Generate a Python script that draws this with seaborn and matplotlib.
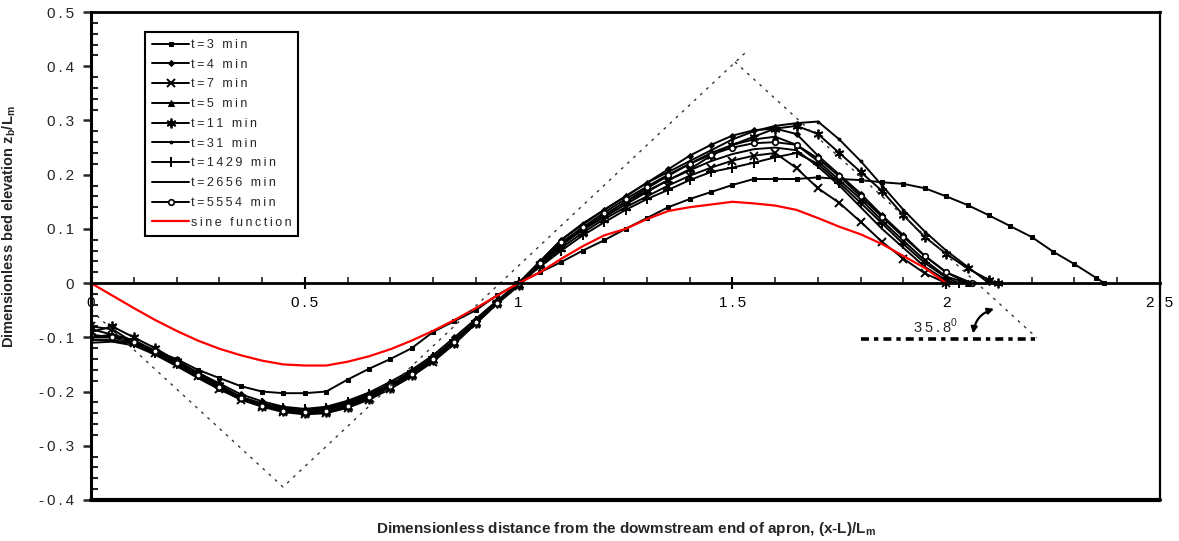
import matplotlib
matplotlib.use("Agg")
import matplotlib.pyplot as plt
import seaborn as sns
from matplotlib.patches import FancyArrowPatch
from matplotlib.ticker import MultipleLocator

sns.set_style("ticks")
plt.rcParams['font.family'] = ['Liberation Sans', 'DejaVu Sans']
plt.rcParams['axes.unicode_minus'] = False

# ---------------- data ----------------
x_grid = [0.0, 0.05, 0.1, 0.15, 0.2, 0.25, 0.3, 0.35, 0.4, 0.45,
          0.5, 0.55, 0.6, 0.65, 0.7, 0.75, 0.8, 0.85, 0.9, 0.95,
          1.0, 1.05, 1.1, 1.15, 1.2, 1.25, 1.3, 1.35, 1.4, 1.45,
          1.5, 1.55, 1.6, 1.65, 1.7, 1.75, 1.8, 1.85, 1.9, 1.95,
          2.0, 2.05, 2.1, 2.15, 2.2, 2.25, 2.3, 2.35]

labels = ["t=3 min", "t=4 min", "t=7 min", "t=5 min", "t=11 min",
          "t=31 min", "t=1429 min", "t=2656 min", "t=5554 min"]
sine_label = "sine function"

x_tick_labels = ["0", "0.5", "1", "1.5", "2", "2.5"]
x_tick_values = [0, 0.5, 1, 1.5, 2, 2.5]
y_tick_labels = ["-0.4", "-0.3", "-0.2", "-0.1", "0", "0.1", "0.2", "0.3", "0.4", "0.5"]
y_tick_values = [-0.4, -0.3, -0.2, -0.1, 0, 0.1, 0.2, 0.3, 0.4, 0.5]

y_t3 = [-0.1, -0.1, -0.11, -0.125, -0.14, -0.16, -0.175, -0.19, -0.2, -0.203,
        -0.203, -0.2, -0.178, -0.158, -0.14, -0.12, -0.09, -0.07, -0.05, -0.022,
        0.0, 0.02, 0.039, 0.06, 0.079, 0.1, 0.12, 0.14, 0.155, 0.168,
        0.181, 0.192, 0.192, 0.192, 0.195, 0.192, 0.19, 0.186, 0.183, 0.175,
        0.16, 0.144, 0.125, 0.105, 0.085, 0.058, 0.035, 0.01]
end_t3 = 2.37

y_t4 = [-0.085, -0.095, -0.105, -0.125, -0.145, -0.165, -0.185, -0.205, -0.218, -0.228,
        -0.232, -0.228, -0.217, -0.202, -0.182, -0.16, -0.133, -0.1, -0.066, -0.032,
        0.0, 0.04, 0.08, 0.108, 0.135, 0.16, 0.185, 0.21, 0.235, 0.255,
        0.272, 0.282, 0.285, 0.275, 0.235, 0.2, 0.165, 0.125, 0.088, 0.05,
        0.02, 0.0]
end_t4 = None

y_t7 = [-0.08, -0.085, -0.11, -0.128, -0.15, -0.172, -0.195, -0.215, -0.228, -0.238,
        -0.242, -0.24, -0.23, -0.215, -0.195, -0.172, -0.145, -0.112, -0.075, -0.038,
        -0.005, 0.032, 0.065, 0.093, 0.118, 0.14, 0.16, 0.18, 0.198, 0.213,
        0.226, 0.235, 0.24, 0.212, 0.175, 0.148, 0.113, 0.076, 0.045, 0.018,
        0.0]
end_t7 = None

y_t5 = [-0.1, -0.1, -0.108, -0.125, -0.147, -0.168, -0.19, -0.21, -0.223, -0.232,
        -0.236, -0.232, -0.222, -0.207, -0.188, -0.165, -0.138, -0.105, -0.07, -0.035,
        0.0, 0.035, 0.072, 0.1, 0.125, 0.15, 0.175, 0.198, 0.22, 0.24,
        0.255, 0.265, 0.27, 0.255, 0.225, 0.19, 0.155, 0.115, 0.078, 0.042,
        0.012, 0.0]
end_t5 = None

y_t11 = [-0.09, -0.08, -0.1, -0.12, -0.143, -0.165, -0.188, -0.21, -0.226, -0.236,
         -0.24, -0.238, -0.228, -0.213, -0.193, -0.17, -0.142, -0.11, -0.073, -0.037,
         -0.003, 0.035, 0.07, 0.1, 0.125, 0.15, 0.17, 0.19, 0.21, 0.235,
         0.255, 0.27, 0.285, 0.29, 0.275, 0.24, 0.205, 0.17, 0.125, 0.085,
         0.054, 0.027, 0.006]
end_t11 = 2.12

y_t31 = [-0.105, -0.105, -0.112, -0.13, -0.152, -0.173, -0.194, -0.212, -0.225, -0.233,
         -0.236, -0.233, -0.225, -0.21, -0.19, -0.167, -0.14, -0.108, -0.072, -0.036,
         0.0, 0.04, 0.08, 0.11, 0.135, 0.16, 0.185, 0.205, 0.225, 0.245,
         0.265, 0.28, 0.29, 0.295, 0.298, 0.265, 0.225, 0.18, 0.135, 0.095,
         0.06, 0.03, 0.0]
end_t31 = None

y_t1429 = [-0.1, -0.095, -0.11, -0.128, -0.15, -0.17, -0.192, -0.21, -0.222, -0.23,
           -0.233, -0.23, -0.22, -0.205, -0.186, -0.163, -0.137, -0.105, -0.07, -0.035,
           0.002, 0.03, 0.06, 0.088, 0.112, 0.135, 0.155, 0.172, 0.19, 0.205,
           0.213, 0.222, 0.232, 0.24, 0.22, 0.185, 0.148, 0.11, 0.072, 0.037,
           0.01]
end_t1429 = 2.03

y_t2656 = [-0.11, -0.108, -0.115, -0.132, -0.153, -0.175, -0.196, -0.214, -0.226, -0.234,
           -0.237, -0.234, -0.224, -0.208, -0.188, -0.165, -0.138, -0.106, -0.071, -0.036,
           0.0, 0.035, 0.07, 0.098, 0.122, 0.145, 0.168, 0.19, 0.208, 0.225,
           0.238, 0.247, 0.25, 0.245, 0.215, 0.18, 0.14, 0.1, 0.065, 0.03,
           0.005]
end_t2656 = 2.02

y_t5554 = [-0.095, -0.1, -0.108, -0.126, -0.148, -0.17, -0.192, -0.212, -0.226, -0.235,
           -0.238, -0.235, -0.226, -0.21, -0.19, -0.167, -0.14, -0.108, -0.072, -0.036,
           0.0, 0.037, 0.075, 0.103, 0.13, 0.155, 0.178, 0.2, 0.22, 0.237,
           0.25, 0.258, 0.26, 0.255, 0.23, 0.197, 0.16, 0.122, 0.085, 0.05,
           0.02]
end_t5554 = 2.06

y_sine = [0.0, -0.023, -0.046, -0.068, -0.088, -0.106, -0.121, -0.133, -0.143, -0.15,
          -0.152, -0.152, -0.145, -0.135, -0.122, -0.106, -0.088, -0.068, -0.046, -0.023,
          0.0, 0.02, 0.045, 0.068, 0.088, 0.1, 0.118, 0.133, 0.14, 0.145,
          0.15, 0.147, 0.143, 0.135, 0.12, 0.104, 0.09, 0.072, 0.05, 0.028,
          0.0]

# reference geometry lines
tri_x = [0.0, 0.449, 1.537]
tri_y = [-0.05, -0.376, 0.43]
slope_x = [1.506, 2.212]
slope_y = [0.408, -0.101]
horiz_x = [1.80, 2.21]
horiz_y = [-0.103, -0.103]
angle_text = "35.8"

series_y = [y_t3, y_t4, y_t7, y_t5, y_t11, y_t31, y_t1429, y_t2656, y_t5554]
series_end = [end_t3, end_t4, end_t7, end_t5, end_t11, end_t31, end_t1429, end_t2656, end_t5554]


def spaced(s):
    # emulate the wide letter tracking of the original rendering
    return "\u2009".join(s)


# ---------------- styles ----------------
styles = [
    dict(marker='s', markersize=3),
    dict(marker='D', markersize=3),
    dict(marker='x', markersize=6, markeredgewidth=1.4),
    dict(marker='^', markersize=4),
    dict(marker=(6, 2, 0), markersize=7, markeredgewidth=1.3),
    dict(marker='o', markersize=2),
    dict(marker='+', markersize=7, markeredgewidth=1.4),
    dict(marker=None),
    dict(marker='o', markersize=4, markerfacecolor='white', markeredgewidth=1.2),
]

fig = plt.figure(figsize=(11.79, 5.41), dpi=100)
ax = fig.add_axes([0.0772, 0.0758, 0.9067, 0.902])

for lab, yv, end, st in zip(labels, series_y, series_end, styles):
    xs = x_grid[:len(yv)]
    ys = list(yv)
    if end is not None:
        xs = xs + [end]
        ys = ys + [0.0]
    sns.lineplot(x=xs, y=ys, ax=ax, color='black', linewidth=1.4,
                 label=spaced(lab), markeredgecolor='black', estimator=None, **st)

sns.lineplot(x=x_grid[:len(y_sine)], y=y_sine, ax=ax, color='red',
             linewidth=1.6, label=spaced(sine_label), estimator=None)

# dotted guide lines
ax.plot(tri_x, tri_y, color='#333333', linewidth=1.0, linestyle=(0, (2, 4)))
ax.plot(slope_x, slope_y, color='#333333', linewidth=1.0, linestyle=(0, (2, 4)))
ax.plot(horiz_x, horiz_y, color='black', linewidth=2.6,
        linestyle=(0, (2.2, 1.4, 1.2, 1.4)))

# angle annotation
ax.text(1.975, -0.079, spaced(angle_text) + r"$^{\mathregular{0}}$", fontsize=10.5,
        ha='center', va='center')
arr = FancyArrowPatch((2.118, -0.046), (2.062, -0.098),
                      arrowstyle='<|-|>', mutation_scale=9,
                      connectionstyle='arc3,rad=0.35', color='black', lw=1.6)
ax.add_patch(arr)

# axes limits / ticks
ax.set_xlim(0, 2.5)
ax.set_ylim(-0.4, 0.5)
ax.spines['bottom'].set_position(('data', 0))
for s in ['left', 'top', 'right', 'bottom']:
    ax.spines[s].set_color('black')
ax.spines['left'].set_linewidth(2.2)
ax.spines['bottom'].set_linewidth(2.0)
ax.spines['top'].set_linewidth(2.0)
ax.spines['right'].set_linewidth(1.6)
ax.axhline(-0.4, color='black', linewidth=3.0, clip_on=False)

ax.xaxis.set_minor_locator(MultipleLocator(0.1))
ax.yaxis.set_minor_locator(MultipleLocator(0.02))
ax.set_xticks(x_tick_values)
ax.set_xticklabels([spaced(t) for t in x_tick_labels])
ax.set_yticks(y_tick_values)
ax.set_yticklabels([spaced(t) for t in y_tick_labels])
ax.tick_params(axis='x', which='major', direction='inout', length=8, width=1.5,
               labelsize=11, pad=5, colors='black')
ax.tick_params(axis='x', which='minor', direction='in', length=4, width=1.2)
ax.tick_params(axis='y', which='major', direction='out', length=6, width=1.8,
               labelsize=11, pad=6)
ax.tick_params(axis='y', which='minor', direction='in', length=5, width=1.5)

ax.set_xlabel(r"Dimensionless distance from the dowmstream end of apron, (x-L)/L$_{\mathregular{m}}$",
              fontsize=11, fontweight='bold')
ax.xaxis.set_label_coords(0.5, -0.04)
ax.set_ylabel(r"Dimensionless bed elevation z$_{\mathregular{b}}$/L$_{\mathregular{m}}$",
              fontsize=10.5, fontweight='bold')
ax.yaxis.set_label_coords(-0.068, 0.56)

leg = ax.legend(loc='upper left', bbox_to_anchor=(0.0505, 0.959), fontsize=9,
                frameon=True, fancybox=False, edgecolor='black', framealpha=1,
                handlelength=3.0, handletextpad=0.1, labelspacing=0.62,
                borderpad=0.55, borderaxespad=0)
leg.get_frame().set_linewidth(1.5)

fig.savefig("out.png", dpi=100)
